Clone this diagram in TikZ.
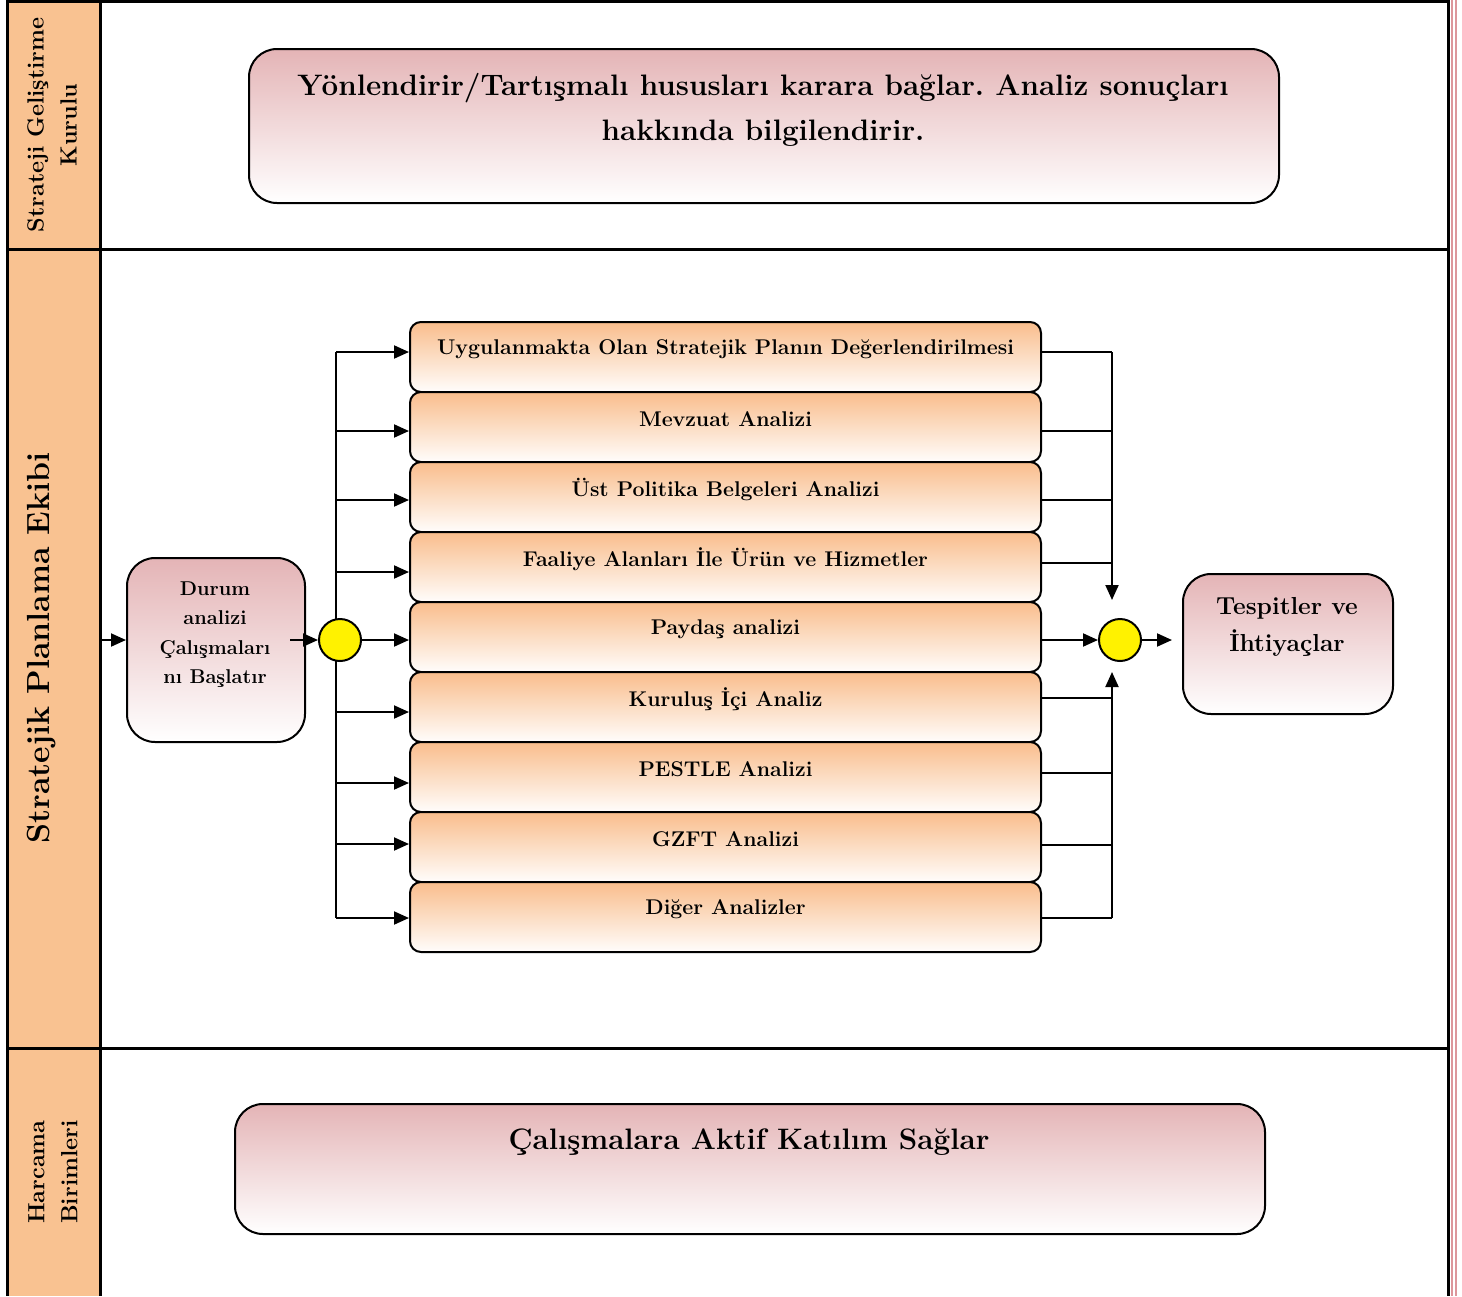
\documentclass[tikz,border=0pt]{standalone}
\usepackage{fontspec}
\frenchspacing
\usetikzlibrary{arrows.meta,calc}
\definecolor{peach}{RGB}{249,194,145}
\definecolor{pinktop}{RGB}{228,180,182}
\definecolor{orangetop}{RGB}{249,189,140}
\definecolor{pinkline}{RGB}{220,150,155}
\tikzset{
  lane/.style={line width=3pt},
  conn/.style={line width=2pt},
  arr/.style={line width=2pt,-{Triangle[length=15pt,width=13pt]}},
  pinkbox/.style={draw=black,line width=2pt,rounded corners=28pt,top color=pinktop,bottom color=white,inner sep=0pt},
  anbox/.style={draw=black,line width=2pt,rounded corners=11pt,top color=orangetop,bottom color=white!97!orangetop,inner sep=0pt,minimum width=631pt,minimum height=70pt,anchor=north west},
  dot/.style={circle,draw=black,line width=2pt,fill=yellow,minimum size=42pt,inner sep=0pt},
  antext/.style={font=\fontsize{21.3}{25}\selectfont\bfseries},
}
\begin{document}
\begin{tikzpicture}[x=1pt,y=-1pt]
\useasboundingbox (0,0) rectangle (1462,1296);
% lanes
\fill[peach] (7,0) rectangle (100,1296);
\draw[lane] (7,1.5) -- (1448,1.5);
\draw[lane] (7,0) -- (7,1296);
\draw[lane] (100,0) -- (100,1296);
\draw[lane] (1448,0) -- (1448,1296);
\draw[lane] (7,249) -- (1448,249);
\draw[lane] (7,1048) -- (1448,1048);
\draw[pinkline,line width=2pt] (1451.8,0) -- (1451.8,1296);
\draw[pinkline,line width=2pt] (1455.5,0) -- (1455.5,1296);
% lane labels
\node[rotate=90,align=center,font=\fontsize{23.4}{33}\selectfont\bfseries] (lane1) at (52,125) {Strateji Geliştirme\\Kurulu};
\node[rotate=90,align=center,font=\fontsize{32}{36}\selectfont\bfseries] (lane2) at (42,648) {Stratejik Planlama Ekibi};
\node[rotate=90,align=center,font=\fontsize{23.4}{33}\selectfont\bfseries] (lane3) at (53,1172) {Harcama\\Birimleri};
% top box
\node[pinkbox,minimum width=1030pt,minimum height=154pt,anchor=north west] (top) at (248,48) {};
\node[align=center,font=\fontsize{29.6}{45}\selectfont\bfseries] (toptext) at (763,109.5) {Yönlendirir/Tartışmalı hususları karara bağlar. Analiz sonuçları\\hakkında bilgilendirir.};
% bottom box
\node[pinkbox,minimum width=1030pt,minimum height=130pt,anchor=north west] (bot) at (234,1103) {};
\node[font=\fontsize{29.6}{34}\selectfont\bfseries] (bottext) at (749,1142) {Çalışmalara Aktif Katılım Sağlar};
% Durum box
\node[pinkbox,minimum width=178pt,minimum height=184pt,anchor=north west] (durum) at (126,557) {};
\node[align=center,font=\fontsize{20}{29.5}\selectfont\bfseries] (durumtext) at (215,634.5) {Durum\\analizi\\Çalışmaları\\nı Başlatır};
% Tespitler box
\node[pinkbox,minimum width=210pt,minimum height=140pt,anchor=north west] (tesp) at (1182,573) {};
\node[align=center,font=\fontsize{24.6}{37}\selectfont\bfseries] (tesptext) at (1287,626.5) {Tespitler ve\\İhtiyaçlar};
% analysis boxes
\foreach \i/\txt/\la/\ra in {
  1/Uygulanmakta Olan Stratejik Planın Değerlendirilmesi/352/352,
  2/Mevzuat Analizi/431/431,
  3/Üst Politika Belgeleri Analizi/500/500,
  4/Faaliye Alanları İle Ürün ve Hizmetler/572/563,
  5/Paydaş analizi/640/640,
  6/Kuruluş İçi Analiz/712/698,
  7/PESTLE Analizi/783/773,
  8/GZFT Analizi/844/845,
  9/Diğer Analizler/918/918}{
  \node[anbox] (b\i) at (409,{321+70*(\i-1)}) {};
  \node[antext] (t\i) at ($(b\i.north)+(0,28)$) {\txt};
  \coordinate (L\i) at (336,\la);
  \coordinate (R\i) at (1112,\ra);
}
% circle positions
\coordinate (c1p) at (340,640);
\coordinate (c2p) at (1120,640);
% left distribution
\draw[conn] (L1) -- (L9);
\foreach \i in {1,2,3,4,6,7,8,9}{
  \draw[arr] (L\i) -- (L\i -| b\i.west);
}
% right collection
\foreach \i in {1,2,3,4,6,7,8,9}{
  \draw[conn] (R\i -| b\i.east) -- (R\i);
}
\coordinate (rtop) at (1112,600);
\coordinate (rbot) at (1112,672);
\draw[arr] (R1) -- (rtop);
\draw[arr] (R9) -- (rbot);
% circles
\node[dot] (c1) at (c1p) {};
\node[dot] (c2) at (c2p) {};
\draw[arr] (c1.east) -- (c1.east -| b5.west);
\coordinate (din) at (290,640);
\coordinate (lin) at (100,640);
\draw[arr] (din) -- (c1.west);
\draw[arr] (lin) -- (lin -| durum.west);
\draw[arr] (b5.east |- c2.west) -- (c2.west);
\coordinate (rout) at (1172,640);
\draw[arr] (c2.east) -- (rout);
\end{tikzpicture}
\end{document}
